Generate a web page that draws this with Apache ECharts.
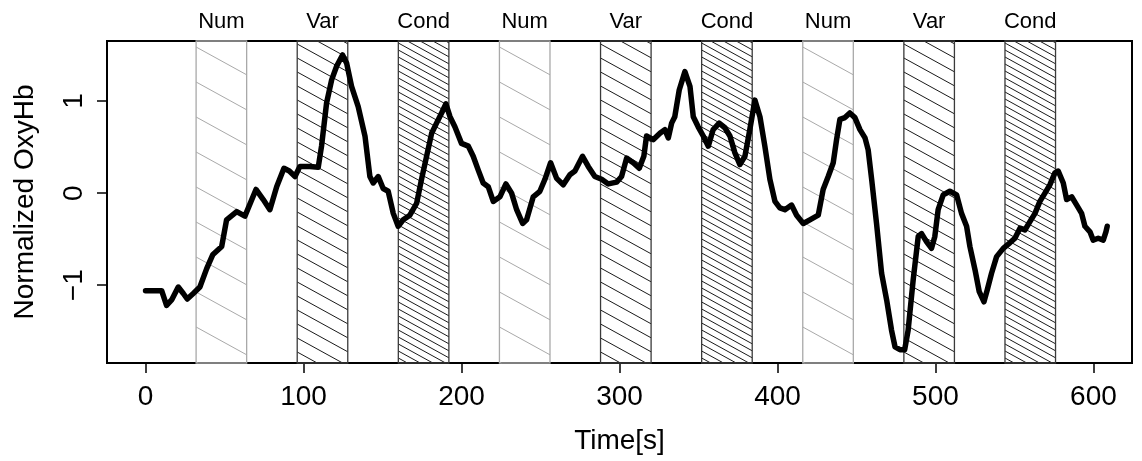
<!DOCTYPE html>
<html>
<head>
<meta charset="utf-8">
<script src="https://cdn.jsdelivr.net/npm/echarts@6/dist/echarts.min.js"></script>
<style>
html, body { margin: 0; padding: 0; background: #fff; }
#main { width: 1142px; height: 461px; }
</style>
</head>
<body>
<div id="main"></div>
<script>
// time axis (s) and normalized OxyHb
var timeSec = [
    0, 10.2, 13.3, 16.5, 20.7, 23.9, 26.4, 30.2, 34.4, 38.7,
    42.5, 48.2, 51.3, 57.7, 62.9, 69.9, 74.5, 78.7, 83, 87.6,
    91, 94.6, 97.7, 104, 109.3, 111.4, 114.6, 117.8, 121, 124.7,
    127.3, 130.4, 134.6, 138.9, 142, 144.1, 147.3, 150.4, 153.6, 156.8,
    159.9, 163.1, 167.3, 171.6, 174.7, 177.9, 181.1, 184.2, 187.4, 190.1,
    192.7, 195.8, 200, 204.3, 207.4, 210.6, 213.7, 216.9, 220.1, 224.3,
    228.1, 231.7, 234.9, 238.7, 241.2, 245.4, 249.6, 252.8, 256.4, 260.2,
    264.4, 268.6, 271.8, 276.6, 280.2, 284.4, 288.7, 292.9, 298.2, 301.3,
    304.5, 308.7, 312.5, 315.4, 317.1, 321.3, 325.6, 328.7, 330.9, 333,
    335, 337.8, 341.4, 344.6, 346.7, 349.8, 353, 356.2, 359.3, 363.1,
    366.7, 369.9, 373, 376.2, 379.4, 382.5, 385.7, 388.9, 392, 395.2,
    398.4, 401.5, 404.7, 408.9, 412.1, 416.3, 420.5, 425.8, 428.9, 432.1,
    435.3, 437.4, 439.5, 442.7, 445.8, 449, 452.2, 455.4, 457.4, 459.6,
    462.7, 465.9, 469.1, 472.2, 474.4, 477.5, 480.5, 482.7, 485.9, 489.1,
    491.2, 494.4, 497.5, 499.6, 501.7, 504.9, 509.1, 513.4, 516.5, 519.7,
    521.8, 525, 527.7, 530.7, 532.8, 535.5, 538.7, 542.9, 547.1, 550.3,
    553.5, 556.6, 559.8, 563, 566.1, 569.3, 572.4, 575.6, 577.7, 580.9,
    583, 586.2, 589.4, 592.5, 594.6, 597.8, 599.8, 603, 606.2, 607.9,
    608.7
];
var oxyHb = [
    -1.06, -1.06, -1.22, -1.16, -1.02, -1.09, -1.15, -1.09, -1.02, -0.82,
    -0.67, -0.58, -0.29, -0.2, -0.25, 0.04, -0.07, -0.18, 0.07, 0.27,
    0.24, 0.18, 0.29, 0.29, 0.28, 0.51, 0.98, 1.23, 1.38, 1.5,
    1.41, 1.16, 0.94, 0.62, 0.18, 0.11, 0.18, 0.05, 0.02, -0.22,
    -0.36, -0.29, -0.24, -0.11, 0.15, 0.4, 0.65, 0.76, 0.87, 0.97,
    0.83, 0.72, 0.54, 0.51, 0.4, 0.25, 0.11, 0.07, -0.09, -0.04,
    0.1, 0, -0.18, -0.33, -0.29, -0.04, 0.02, 0.15, 0.33, 0.16,
    0.09, 0.2, 0.24, 0.4, 0.29, 0.18, 0.15, 0.1, 0.12, 0.18,
    0.38, 0.33, 0.27, 0.4, 0.62, 0.58, 0.65, 0.69, 0.6, 0.76,
    0.83, 1.12, 1.32, 1.16, 0.83, 0.72, 0.62, 0.51, 0.69, 0.76,
    0.71, 0.62, 0.44, 0.31, 0.4, 0.69, 1.01, 0.83, 0.51, 0.15,
    -0.09, -0.16, -0.18, -0.13, -0.24, -0.33, -0.29, -0.24, 0.04, 0.18,
    0.33, 0.58, 0.8, 0.82, 0.87, 0.82, 0.69, 0.6, 0.47, 0.15,
    -0.33, -0.87, -1.16, -1.49, -1.67, -1.7, -1.7, -1.49, -0.94, -0.47,
    -0.44, -0.53, -0.6, -0.47, -0.18, -0.02, 0.02, -0.02, -0.22, -0.36,
    -0.58, -0.83, -1.07, -1.18, -1.05, -0.87, -0.69, -0.6, -0.54, -0.49,
    -0.38, -0.4, -0.31, -0.22, -0.09, 0, 0.09, 0.22, 0.24, 0.11,
    -0.07, -0.04, -0.13, -0.22, -0.36, -0.42, -0.51, -0.49, -0.51, -0.42,
    -0.36
];
// task blocks
var bandStart = [32, 96, 160, 224, 288, 352, 416, 480, 544];
var bandWidth = 32;
var bandLabel = ['Num', 'Var', 'Cond', 'Num', 'Var', 'Cond', 'Num', 'Var', 'Cond'];
var xTicks = [0, 100, 200, 300, 400, 500, 600];
var yTicks = [-1, 0, 1];

var fontFam = '"Liberation Sans", Arial, sans-serif';
// hatch look for each block kind (gap = vertical distance between lines)
var hatchStyle = {
    Num:  { line: '#a9a9a9', border: '#a9a9a9', gap: 35, offset: 6 },
    Var:  { line: '#1a1a1a', border: '#3a3a3a', gap: 14, offset: 3 },
    Cond: { line: '#1a1a1a', border: '#3a3a3a', gap: 7,  offset: 2 }
};
var hatchSlope = 0.55;

function renderBand(params, api) {
    var cs = params.coordSys;
    var xL = api.coord([api.value(0), 0])[0];
    var xR = api.coord([api.value(1), 0])[0];
    var top = cs.y, bottom = cs.y + cs.height;
    var w = xR - xL;
    var name = bandLabel[api.value(2)];
    var st = hatchStyle[name];
    var k = hatchSlope;
    var children = [];
    var yl = top + st.offset - Math.ceil(k * w / st.gap) * st.gap;
    for (; yl < bottom; yl += st.gap) {
        var x1 = xL, y1 = yl, x2 = xR, y2 = yl + k * w;
        if (y1 < top) { x1 = xL + (top - yl) / k; y1 = top; }
        if (y2 > bottom) { x2 = xL + (bottom - yl) / k; y2 = bottom; }
        if (x2 <= x1) continue;
        children.push({
            type: 'line',
            shape: { x1: x1, y1: y1, x2: x2, y2: y2 },
            style: { stroke: st.line, lineWidth: 1 }
        });
    }
    children.push({
        type: 'rect',
        shape: { x: xL, y: top, width: w, height: bottom - top },
        style: { fill: null, stroke: st.border, lineWidth: 1.3 }
    });
    children.push({
        type: 'text',
        x: (xL + xR) / 2,
        y: top - 19,
        style: {
            text: name, fill: '#000', fontSize: 22, fontFamily: fontFam,
            align: 'center', verticalAlign: 'middle'
        }
    });
    return { type: 'group', children: children };
}

var chart = echarts.init(document.getElementById('main'), null, { renderer: 'canvas' });

var lineData = timeSec.map(function (t, i) { return [t, oxyHb[i]]; });
var bandData = bandStart.map(function (s, i) { return [s, s + bandWidth, i]; });

chart.setOption({
    animation: false,
    backgroundColor: '#fff',
    grid: {
        left: 107, top: 41, width: 1025, height: 322,
        show: true, borderColor: '#000', borderWidth: 2, backgroundColor: 'transparent'
    },
    xAxis: {
        type: 'value', min: -24.4, max: 624.4,
        axisLine: { show: false, onZero: false },
        splitLine: { show: false },
        axisTick: { show: true, customValues: xTicks, length: 10, lineStyle: { color: '#000', width: 1.5 } },
        axisLabel: { customValues: xTicks, fontSize: 28, color: '#000', fontFamily: fontFam, margin: 20 },
        name: 'Time[s]', nameLocation: 'middle', nameGap: 64,
        nameTextStyle: { fontSize: 28, color: '#000', fontFamily: fontFam }
    },
    yAxis: {
        type: 'value', min: -1.845, max: 1.652,
        axisLine: { show: false, onZero: false },
        splitLine: { show: false },
        axisTick: { show: true, customValues: yTicks, length: 10, lineStyle: { color: '#000', width: 1.5 } },
        axisLabel: {
            customValues: yTicks, fontSize: 28, color: '#000', fontFamily: fontFam,
            rotate: 90, margin: 19,
            formatter: function (v) { return String(v).replace('-', '\u2212'); }
        },
        name: 'Normalized OxyHb', nameLocation: 'middle', nameGap: 68,
        nameTextStyle: { fontSize: 28, color: '#000', fontFamily: fontFam }
    },
    series: [
        {
            type: 'custom',
            renderItem: renderBand,
            data: bandData,
            encode: { x: [0, 1] },
            z: 1,
            silent: true
        },
        {
            type: 'line',
            data: lineData,
            showSymbol: false,
            lineStyle: { color: '#000', width: 5.5, join: 'round', cap: 'round' },
            z: 3,
            silent: true
        }
    ]
});
</script>
</body>
</html>
